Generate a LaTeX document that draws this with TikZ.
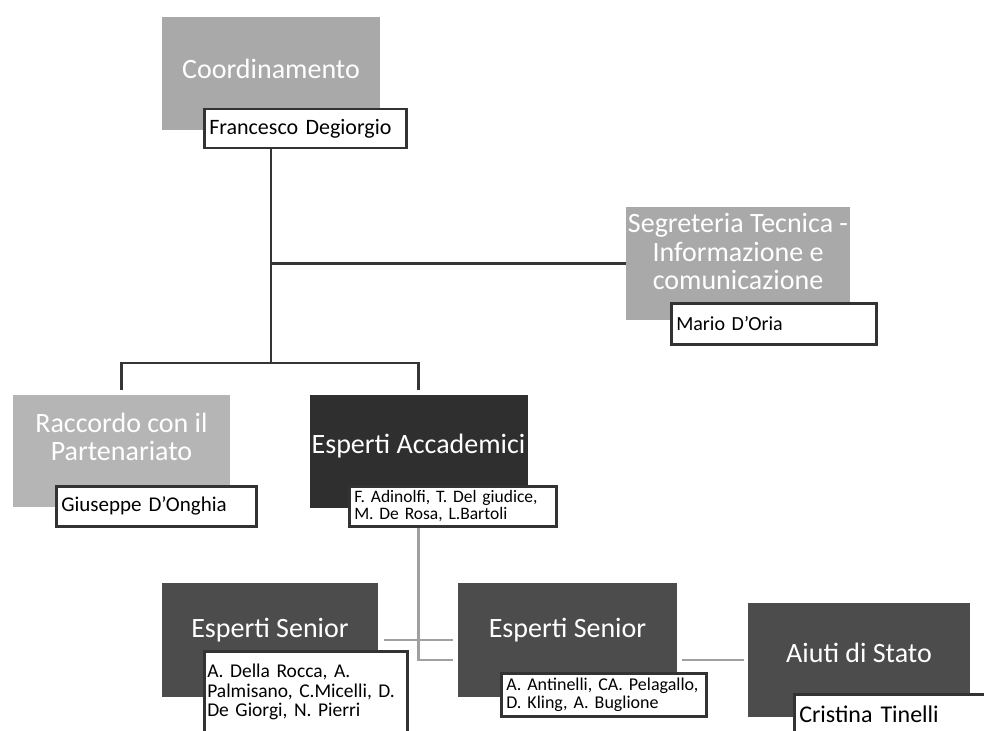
\documentclass[tikz,border=0pt]{standalone}
\usepackage{fontspec}
\setmainfont{Carlito}
\usetikzlibrary{positioning,calc}

\definecolor{lightunit}{HTML}{A9A9A9}
\definecolor{paleunit}{HTML}{B5B5B5}
\definecolor{darkunit}{HTML}{2F2F2F}
\definecolor{midunit}{HTML}{4C4C4C}
\definecolor{boxline}{HTML}{333333}
\definecolor{lineblack}{HTML}{353535}
\definecolor{linegray}{HTML}{A0A0A0}

\tikzset{
  unit/.style={rectangle, minimum width=218, minimum height=113, inner sep=2,
    text=white, align=center, font=\fontsize{28}{28.5}\selectfont},
  person/.style={rectangle, draw=boxline, line width=2.5, fill=white, anchor=north west,
    align=left, inner xsep=5, inner ysep=3, text=black, font=\fontsize{20}{22}\selectfont},
  conn/.style={draw=lineblack, line width=2.4},
  connlow/.style={draw=linegray, line width=2.4}
}

\begin{document}
\begin{tikzpicture}[x=1pt, y=-1pt]
            \useasboundingbox (0,0) rectangle (984,730);

            % the units
            \begin{scope}[every node/.style={unit}]
                \node[fill=lightunit, text depth=9] (coord) at (271,73.5) {Coordinamento};
                \node[fill=lightunit, minimum width=220, text depth=24] (seg) at (738,263.5) {Segreteria Tecnica -\\Informazione e\\comunicazione};
                \node[fill=paleunit, minimum width=217, minimum height=112, text depth=28] (racc) at (121.5,451) {Raccordo con il\\Partenariato};
                \node[fill=darkunit, text depth=15] (acad) at (418.5,451.5) {Esperti Accademici};
                \node[fill=midunit, minimum width=216, minimum height=114, text depth=24] (senA) at (270,640) {Esperti Senior};
                \node[fill=midunit, minimum width=219, minimum height=114, text depth=24] (senB) at (567.5,640) {Esperti Senior};
                \node[fill=midunit, minimum width=222, minimum height=114, text depth=14] (aiuti) at (859,660) {Aiuti di Stato};
            \end{scope}

            % the people
            \begin{scope}[every node/.style={person}]
                \node[text width=192, minimum height=39, font=\fontsize{22}{24}\selectfont] (coordName) at (203,108) {Francesco Degiorgio};
                \node[text width=195, minimum height=41] (segName) at (670,302) {Mario D'Oria};
                \node[text width=190, minimum height=40, font=\fontsize{21}{23}\selectfont] (raccName) at (55,485) {Giuseppe D'Onghia};
                \node[text width=197, minimum height=40, font=\fontsize{17.5}{17.5}\selectfont] (acadName) at (348,485) {F. Adinolfi, T. Del giudice,\\M. De Rosa, L.Bartoli};
                \node[text width=197, inner xsep=3, minimum height=82, font=\fontsize{19.5}{19.5}\selectfont] (senAName) at (203,650) {A. Della Rocca, A.\\Palmisano, C.Micelli, D.\\De Giorgi, N. Pierri};
                \node[text width=195, minimum height=43, font=\fontsize{18}{18}\selectfont] (senBName) at (500,672) {A. Antinelli, CA. Pelagallo,\\D. Kling, A. Buglione};
                \node[text width=200, minimum height=40, font=\fontsize{24}{26}\selectfont] (aiutiName) at (793,693) {Cristina Tinelli};
            \end{scope}

            \coordinate (mid) at (coord.south |- seg.west);
            \coordinate (hub) at ($(coord.south)+(0,233)$);
            \coordinate (low) at (acad.south |- aiuti.west);

            \begin{scope}[every edge/.style={conn}]
                \path [-] (coordName.south -| coord.south) edge node {} (hub);
                \path [-] (mid) edge node {} (seg.west);
            \end{scope}
            \draw[conn] ([yshift=5]racc.north) |- (hub) -| ([yshift=5]acad.north);

            \begin{scope}[every edge/.style={connlow}]
                \path [-] ([xshift=6]senA.east) edge node {} ([xshift=-5]senB.west);
                \path [-] ([xshift=5]senB.east |- aiuti.west) edge node {} ([xshift=-4]aiuti.west);
            \end{scope}
            \draw[connlow] (acadName.south -| acad.south) -- (low) -- ([xshift=-5]low -| senB.west);
        \end{tikzpicture}
\end{document}
